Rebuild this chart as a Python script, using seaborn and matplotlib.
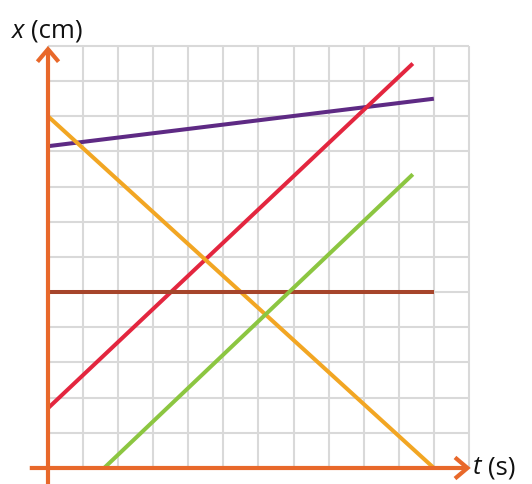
import matplotlib
matplotlib.use("Agg")
import matplotlib.pyplot as plt
from matplotlib.patches import FancyArrowPatch
import seaborn as sns
import pandas as pd

# Position-time lines: start and end points (t in s, x in cm)
series = ["purple", "red", "orange", "brown", "green"]
t_values = [[0, 11], [0, 10.4], [0, 11], [0, 11], [1.6, 10.4]]
x_values = [[9.15, 10.5], [1.7, 11.5], [10, 0], [5, 5], [0, 8.35]]
colors = {"purple": "#5e2a84", "red": "#e3263f", "orange": "#f2a623",
          "brown": "#a6452b", "green": "#8cc641"}

grid_cells = 12
x_label = ("x", "(cm)")
t_label = ("t", "(s)")

rows = []
for name, ts, xs in zip(series, t_values, x_values):
    for i, (t, x) in enumerate(zip(ts, xs)):
        rows.append({"line": name, "t": t, "x": x, "order": i})
df = pd.DataFrame(rows)

sns.set_theme(style="white")
plt.rcParams["font.family"] = ["Open Sans", "DejaVu Sans"]

W, H, DPI = 532, 484, 100
fig = plt.figure(figsize=(W / DPI, H / DPI), dpi=DPI, facecolor="white")
ax = fig.add_axes([0, 0, 1, 1])
ax.set_facecolor("white")

ox, oy, cw, ch = 48, 468, 35.08, 35.17
ax.set_xlim(-ox / cw, (W - ox) / cw)
ax.set_ylim(-(H - oy) / ch, oy / ch)
ax.axis("off")

# Square grid
grid_color = "#d9d9d9"
ax.vlines(range(grid_cells + 1), 0, grid_cells, color=grid_color, lw=1.5, zorder=1)
ax.hlines(range(grid_cells + 1), 0, grid_cells, color=grid_color, lw=1.5, zorder=1)

sns.lineplot(data=df, x="t", y="x", hue="line", palette=colors, units="line",
             estimator=None, sort=False, lw=2.9, legend=False, ax=ax, zorder=3,
             solid_capstyle="butt")

# Axes with open arrowheads
axis_color = "#e8682a"
for start, end in [((-0.52, 0), (grid_cells + 0.05, 0)),
                   ((0, -0.5), (0, grid_cells))]:
    arr = FancyArrowPatch(start, end, arrowstyle="->,head_length=0.45,head_width=0.38",
                          mutation_scale=20, lw=3, color=axis_color,
                          shrinkA=0, shrinkB=0, zorder=4, capstyle="butt",
                          joinstyle="miter")
    ax.add_patch(arr)

# Axis labels
label_kw = dict(fontsize=18.5, va="center", ha="left", color="#111111")
fig.text(12 / W, 1 - 31 / H, x_label[0], style="italic", **label_kw)
fig.text(31 / W, 1 - 31 / H, x_label[1], **label_kw)
fig.text(473 / W, 1 - 468 / H, t_label[0], style="italic", **label_kw)
fig.text(488 / W, 1 - 468 / H, t_label[1], **label_kw)

fig.savefig("out.png", dpi=DPI, facecolor="white")
